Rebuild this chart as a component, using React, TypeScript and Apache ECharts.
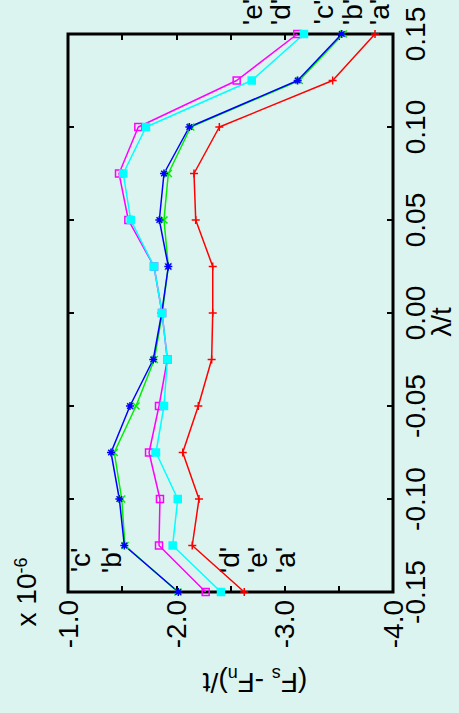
import React, { useEffect, useRef } from "react";
import * as echarts from "echarts";

const lambdas = [-0.15, -0.125, -0.1, -0.075, -0.05, -0.025, 0, 0.025, 0.05, 0.075, 0.1, 0.125, 0.15];
const seriesA = [-2.627, -2.147, -2.209, -2.059, -2.203, -2.326, -2.336, -2.336, -2.179, -2.163, -2.397, -3.443, -3.834];
const seriesB = [-2.015, -1.526, -1.496, -1.427, -1.628, -1.797, -1.87, -1.926, -1.886, -1.926, -2.133, -3.135, -3.541];
const seriesC = [-2.018, -1.52, -1.474, -1.397, -1.572, -1.787, -1.865, -1.926, -1.843, -1.886, -2.12, -3.12, -3.527];
const seriesD = [-2.271, -1.84, -1.849, -1.748, -1.84, -1.917, -1.868, -1.794, -1.557, -1.471, -1.649, -2.557, -3.117];
const seriesE = [-2.412, -1.966, -2.013, -1.812, -1.886, -1.917, -1.868, -1.794, -1.579, -1.51, -1.72, -2.696, -3.178];

const tagNames = ["'a'", "'b'", "'c'", "'d'", "'e'"];
const tagTopX = [-3.871, -3.622, -3.354, -2.966, -2.699];
const tagTopY = 0.1618;
const tagBottomX = [-3.012, -1.406, -1.111, -2.495, -2.745];
const tagBottomY = -0.1328;

const FONT = "'Liberation Sans', Arial, Helvetica, sans-serif";
const BG = "#dcf4ef";

const PLUS = "path://M0,5L10,5M5,0L5,10";
const CROSS = "path://M0,0L10,10M10,0L0,10";
const STAR = "path://M0,5L10,5M5,0L5,10M1.5,1.5L8.5,8.5M8.5,1.5L1.5,8.5";

function mk(name: string, vals: number[], color: string, symbol: string, size: number, fill: string) {
  return {
    name,
    type: "line",
    xAxisIndex: 0,
    yAxisIndex: 0,
    data: vals.map((v, i) => [v, lambdas[i]]),
    symbol,
    symbolSize: size,
    showSymbol: true,
    lineStyle: { color, width: 1.5 },
    itemStyle: { color: fill, borderColor: color, borderWidth: 1.5 },
    emphasis: { disabled: true },
  };
}

const tick = { show: true, inside: true, length: 6, lineStyle: { color: "#000", width: 2 } };

export default function App() {
  const ref = useRef<HTMLDivElement>(null);
  useEffect(() => {
    if (!ref.current) return;
    const chart = echarts.init(ref.current, null, { renderer: "svg" });
    const tagData = [
      ...tagNames.map((n, i) => ({ name: n, value: [tagTopX[i], tagTopY] })),
      ...tagNames.map((n, i) => ({ name: n, value: [tagBottomX[i], tagBottomY] })),
    ];
    chart.setOption({
      animation: false,
      backgroundColor: BG,
      textStyle: { fontFamily: FONT },
      grid: {
        left: 68,
        right: 66,
        top: 34,
        bottom: 121,
        show: true,
        borderColor: "#000",
        borderWidth: 3,
        backgroundColor: "transparent",
      },
      xAxis: [
        {
          type: "value",
          min: -4,
          max: -1,
          interval: 0.5,
          inverse: true,
          position: "bottom",
          axisLine: { show: false, onZero: false },
          axisTick: tick,
          splitLine: { show: false },
          axisLabel: {
            rotate: 90,
            margin: 8,
            fontSize: 28,
            color: "#000",
            fontFamily: FONT,
            formatter: (v: number) => (Math.abs(v - Math.round(v)) < 1e-9 ? v.toFixed(1) : ""),
          },
        },
        {
          type: "value",
          min: -4,
          max: -1,
          interval: 0.5,
          inverse: true,
          position: "top",
          axisLine: { show: false, onZero: false },
          axisTick: tick,
          splitLine: { show: false },
          axisLabel: { show: false },
        },
      ],
      yAxis: [
        {
          type: "value",
          min: -0.15,
          max: 0.15,
          interval: 0.05,
          position: "right",
          axisLine: { show: false, onZero: false },
          axisTick: tick,
          splitLine: { show: false },
          axisLabel: {
            rotate: 90,
            margin: 8,
            fontSize: 28,
            color: "#000",
            fontFamily: FONT,
            formatter: (v: number) => (Math.abs(v) < 1e-9 ? "0.00" : v.toFixed(2)),
          },
        },
        {
          type: "value",
          min: -0.15,
          max: 0.15,
          interval: 0.05,
          position: "left",
          axisLine: { show: false, onZero: false },
          axisTick: tick,
          splitLine: { show: false },
          axisLabel: { show: false },
        },
      ],
      series: [
        mk("a", seriesA, "#ff0000", PLUS, 8, "#ff0000"),
        mk("b", seriesB, "#00ee00", CROSS, 7, "#00ee00"),
        mk("c", seriesC, "#0000ff", STAR, 8, "#0000ff"),
        mk("d", seriesD, "#ff00ff", "rect", 7, "rgba(0,0,0,0)"),
        mk("e", seriesE, "#00ffff", "rect", 7, "#00ffff"),
        {
          name: "tags",
          type: "scatter",
          xAxisIndex: 0,
          yAxisIndex: 0,
          clip: false,
          symbolSize: 0,
          silent: true,
          itemStyle: { opacity: 1, color: "#000" },
          data: tagData,
          label: {
            show: true,
            position: "inside",
            rotate: 90,
            formatter: (p: any) => p.name,
            fontSize: 28,
            color: "#000",
            opacity: 1,
            textBorderWidth: 0,
            fontFamily: FONT,
          },
        },
      ],
      graphic: [
        {
          type: "text",
          x: 441,
          y: 322,
          rotation: Math.PI / 2,
          style: {
            text: "λ/t",
            fontSize: 28,
            fontFamily: FONT,
            fill: "#000",
            align: "center",
            verticalAlign: "middle",
          },
        },
        {
          type: "text",
          x: 26,
          y: 592,
          rotation: Math.PI / 2,
          style: {
            text: "x 10{sup|-6}",
            fontSize: 28,
            fontFamily: FONT,
            fill: "#000",
            align: "center",
            verticalAlign: "middle",
            rich: {
              sup: { fontSize: 18, fontFamily: FONT, fill: "#000", verticalAlign: "top", lineHeight: 18 },
            },
          },
        },
        {
          type: "text",
          x: 255,
          y: 682,
          rotation: Math.PI,
          style: {
            text: "(F{sub|s} -F{sub|n})/t",
            fontSize: 28,
            fontFamily: FONT,
            fill: "#000",
            align: "center",
            verticalAlign: "middle",
            lineHeight: 34,
            rich: {
              sub: { fontSize: 18, fontFamily: FONT, fill: "#000", verticalAlign: "bottom", lineHeight: 18 },
            },
          },
        },
      ],
    });
    return () => chart.dispose();
  }, []);
  return (
    <div
      ref={ref}
      style={{ position: "absolute", left: 0, top: 0, width: 459, height: 713, background: BG }}
    />
  );
}
